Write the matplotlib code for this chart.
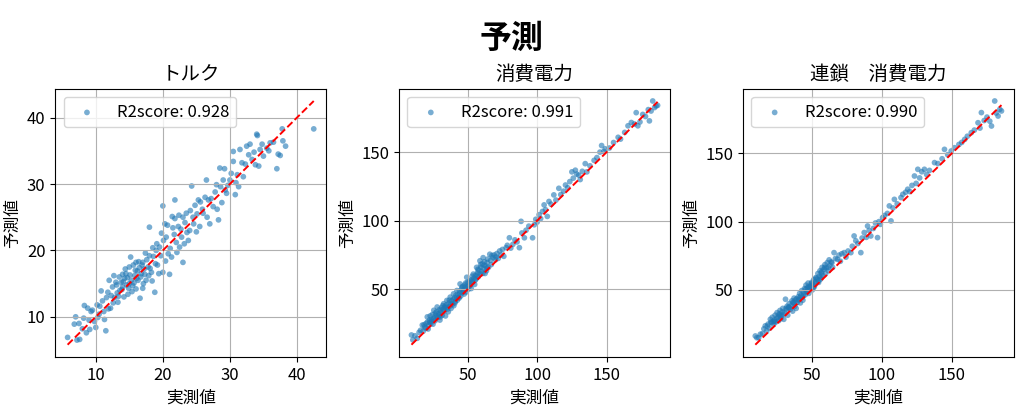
import matplotlib
matplotlib.use("Agg")
import matplotlib.pyplot as plt
from matplotlib.ticker import MultipleLocator

plt.rcParams['font.family'] = ['Noto Sans CJK JP', 'DejaVu Sans']

# トルク: 実測値 / 予測値
torque_true = [5.8, 6.8, 7.0, 7.2, 7.5, 7.6, 8.0, 8.3, 8.6, 8.8, 9.0, 9.3, 9.5, 9.8, 10.0, 10.2, 10.3, 10.5,
               10.8, 11.0, 11.3, 11.5, 11.6, 11.8, 12.0, 12.2, 12.5, 12.6, 12.8, 13.0, 13.2, 13.3, 13.5, 13.6,
               13.8, 14.0, 14.0, 14.2, 14.3, 14.5, 14.6, 14.8, 15.0, 15.0, 15.2, 15.3, 15.5, 15.6, 15.8, 16.0,
               16.0, 16.2, 16.3, 16.5, 16.6, 16.8, 17.0, 17.0, 17.2, 17.4, 17.5, 17.8, 18.0, 18.0, 18.3, 18.5,
               18.8, 19.0, 19.2, 19.5, 19.8, 20.0, 20.0, 20.3, 20.5, 20.8, 21.0, 21.3, 21.5, 21.8, 21.8, 22.0,
               22.3, 22.5, 22.8, 23.0, 23.0, 23.3, 23.5, 23.8, 24.0, 24.3, 24.5, 24.8, 25.0, 25.3, 25.5, 26.0,
               26.5, 26.8, 27.0, 27.5, 28.0, 28.3, 28.5, 28.8, 29.0, 29.3, 29.5, 30.0, 30.5, 30.5, 30.8, 31.1,
               31.3, 31.5, 32.0, 32.5, 32.8, 33.3, 33.8, 34.0, 34.3, 34.5, 35.0, 35.5, 36.0, 37.0, 37.5, 37.8,
               37.9, 38.3, 42.5,
               8.2, 9.1, 10.6, 11.2, 11.9, 12.3, 12.7, 13.1, 13.4, 13.9, 14.1, 14.4, 14.7, 14.9, 15.1, 15.4,
               15.7, 15.9, 16.1, 16.4, 16.7, 16.9, 17.1, 17.3, 17.6, 17.9, 18.1, 18.4, 18.6, 18.9, 19.1, 19.4,
               19.7, 20.1, 20.4, 20.7, 21.1, 21.4, 21.7, 22.1, 22.4, 22.7, 23.2, 23.6, 24.1, 24.6, 25.1, 25.6,
               25.9, 26.3, 26.6, 27.2, 27.8, 28.1, 28.6, 29.2, 29.7, 30.2, 30.9, 31.8, 32.3, 33.0, 33.6, 34.1,
               34.8, 35.8, 36.5, 37.2]
torque_pred = [6.9, 8.9, 10.0, 6.5, 9.0, 6.6, 8.2, 11.7, 7.6, 11.3, 9.5, 10.8, 11.0, 9.3, 8.4, 11.8, 9.9, 10.4,
               13.9, 12.4, 9.6, 7.9, 12.9, 13.7, 15.5, 11.3, 14.5, 12.1, 12.9, 15.2, 13.6, 12.2, 16.0, 14.0,
               15.2, 14.5, 16.4, 13.0, 15.8, 16.5, 14.8, 13.4, 17.5, 15.0, 19.0, 15.5, 14.7, 17.8, 16.2, 18.2,
               14.2, 16.9, 15.5, 17.4, 12.8, 16.5, 18.2, 14.3, 17.2, 19.6, 15.5, 17.5, 23.5, 19.2, 16.7, 20.4,
               13.7, 20.0, 17.8, 20.5, 22.6, 16.7, 26.7, 24.0, 22.0, 19.5, 16.4, 19.0, 23.4, 27.6, 24.8, 21.2,
               23.6, 20.5, 22.0, 18.2, 25.0, 24.2, 25.6, 21.5, 23.0, 29.7, 25.0, 26.8, 22.8, 27.6, 23.6, 25.6,
               30.6, 27.6, 24.0, 26.6, 29.9, 24.6, 32.4, 27.2, 30.6, 29.1, 28.6, 30.6, 33.4, 34.9, 28.4, 31.4,
               29.6, 35.2, 31.1, 35.7, 34.4, 33.7, 32.9, 37.5, 32.7, 35.2, 34.2, 35.4, 36.2, 32.3, 34.3, 38.3,
               36.5, 35.7, 38.3,
               9.8, 8.1, 11.6, 10.8, 11.2, 13.2, 16.2, 14.8, 13.1, 14.1, 15.3, 17.2, 15.9, 14.3, 16.3, 13.8,
               15.1, 17.0, 15.8, 18.3, 16.0, 17.8, 15.0, 16.4, 18.6, 16.2, 17.3, 15.4, 19.1, 18.0, 21.0, 16.5,
               19.2, 21.5, 18.4, 23.8, 20.3, 25.1, 22.4, 19.7, 25.3, 23.2, 21.0, 22.7, 26.0, 24.0, 25.5, 27.3,
               26.2, 28.0, 25.0, 27.8, 28.8, 26.2, 29.6, 32.3, 29.8, 31.6, 30.2, 33.2, 33.0, 36.0, 34.8, 37.3,
               36.0, 35.0, 36.3, 34.5]

# 消費電力: 実測値 / 予測値
power_true = [9.5, 10.5, 12.0, 13.7, 15.0, 16.0, 17.3, 18.0, 19.0, 20.0, 20.9, 21.5, 22.0, 22.5, 23.0, 23.5,
              24.0, 24.5, 25.0, 25.6, 26.0, 26.5, 27.0, 27.5, 28.0, 28.5, 29.0, 29.5, 30.0, 30.3, 30.8, 31.2,
              31.6, 32.0, 32.7, 33.0, 33.5, 34.0, 34.5, 35.0, 35.5, 36.0, 36.5, 37.0, 37.4, 38.0, 38.5, 39.0,
              39.8, 40.0, 40.5, 41.0, 41.5, 42.2, 42.5, 43.0, 43.5, 44.0, 44.5, 45.0, 45.5, 46.0, 46.5, 47.0,
              47.5, 48.0, 48.5, 49.0, 49.3, 50.0, 50.5, 51.0, 51.7, 52.0, 52.5, 53.0, 53.5, 54.0, 54.5, 55.0,
              55.5, 56.0, 56.4, 57.0, 57.5, 58.0, 58.8, 59.0, 59.5, 60.0, 60.5, 61.1, 61.5, 62.0, 62.5, 63.0,
              63.5, 64.0, 65.0, 65.9, 66.5, 67.0, 68.2, 69.0, 70.0, 71.0, 72.0, 73.0, 74.0, 75.0, 76.0, 77.7,
              78.5, 80.0, 81.0, 82.5, 84.0, 85.5, 87.2, 88.4, 89.0, 90.8, 92.0, 94.0, 96.7, 97.9, 99.0, 100.0,
              101.4, 102.5, 103.8, 105.0, 106.0, 107.3, 108.5, 110.0, 112.0, 113.5, 115.6, 117.0, 119.0, 120.4,
              122.0, 123.5, 125.0, 126.0, 127.5, 128.5, 129.9, 131.0, 132.5, 134.6, 135.8, 138.0, 141.0, 143.0,
              145.2, 146.4, 148.0, 149.0, 152.0, 155.0, 158.3, 160.0, 163.0, 165.4, 167.8, 170.0, 171.3, 172.5,
              174.0, 176.0, 178.0, 180.0, 180.8, 182.0, 183.2, 184.5, 185.6, 186.7,
              18.5, 21.0, 23.8, 26.8, 29.8, 32.3, 34.8, 36.8, 39.5, 41.8, 43.8, 45.8, 47.8, 49.8, 51.3, 53.3,
              55.3, 57.3, 59.3, 61.8, 64.5, 67.5, 70.5, 44.2, 40.8, 37.8, 33.8, 30.5, 27.8, 25.3, 22.8, 19.8,
              46.8, 48.8, 52.8, 56.8, 60.8, 63.8]
power_pred = [16.6, 13.0, 16.0, 14.2, 18.5, 20.0, 23.8, 19.5, 22.5, 25.0, 29.8, 21.0, 23.8, 27.5, 30.5, 25.0,
              28.0, 31.5, 24.5, 34.6, 29.0, 27.0, 31.0, 33.5, 37.0, 29.5, 32.0, 35.0, 27.5, 29.8, 33.0, 36.5,
              31.0, 38.0, 39.4, 34.0, 36.5, 30.5, 38.5, 41.8, 35.5, 33.5, 40.0, 37.5, 44.2, 36.0, 41.5, 39.0,
              46.6, 38.0, 43.5, 41.0, 45.5, 49.0, 42.0, 46.0, 44.0, 48.5, 53.8, 45.0, 50.0, 47.5, 52.0, 49.0,
              46.5, 51.5, 54.5, 48.0, 58.7, 52.0, 50.0, 55.0, 56.3, 53.0, 50.5, 57.0, 55.0, 61.0, 58.0, 53.5,
              60.0, 57.5, 65.9, 62.0, 59.0, 64.0, 70.7, 61.0, 66.0, 63.0, 68.5, 73.0, 65.0, 70.0, 61.5, 67.0,
              63.5, 69.5, 66.0, 75.5, 71.0, 68.0, 73.0, 75.0, 71.5, 76.0, 72.5, 77.9, 75.0, 79.0, 74.0, 80.3,
              82.0, 87.5, 80.0, 82.7, 86.0, 84.5, 80.3, 99.5, 91.0, 87.5, 93.0, 96.0, 87.5, 97.0, 101.0, 99.0,
              104.3, 101.5, 106.7, 111.5, 108.0, 103.1, 114.0, 112.0, 118.8, 115.0, 123.6, 119.0, 121.5, 126.0,
              124.0, 128.5, 135.6, 131.0, 136.8, 134.0, 133.2, 130.0, 136.0, 141.6, 135.6, 140.0, 144.0, 146.0,
              150.0, 154.8, 150.5, 152.4, 153.0, 157.0, 160.8, 159.5, 164.4, 169.2, 171.6, 170.5, 178.8, 169.2,
              172.0, 177.5, 176.0, 181.0, 172.8, 180.0, 187.3, 182.5, 183.7, 184.1,
              24.0, 26.0, 26.5, 32.5, 31.0, 35.5, 36.5, 42.0, 42.5, 44.0, 43.5, 51.5, 53.0, 55.0, 52.5, 59.5,
              56.5, 64.5, 68.0, 67.5, 72.0, 74.5, 73.5, 47.0, 40.0, 39.0, 37.5, 34.5, 30.0, 28.0, 26.0, 21.5,
              48.0, 50.5, 55.5, 60.5, 61.5, 65.5]

# 連鎖 消費電力: 実測値 / 予測値
chain_true = [9.9, 11.0, 12.3, 13.5, 15.0, 16.0, 17.0, 18.0, 19.0, 20.0, 20.6, 21.5, 22.0, 23.0, 23.5, 24.0,
              24.5, 25.4, 26.0, 26.5, 27.0, 27.5, 28.0, 28.5, 29.0, 29.5, 30.2, 30.8, 31.4, 32.0, 32.5, 33.0,
              33.5, 34.0, 35.0, 35.5, 36.0, 36.5, 37.0, 37.5, 38.0, 38.5, 39.0, 39.7, 40.5, 41.0, 41.5, 42.0,
              42.5, 43.0, 43.5, 44.5, 45.0, 45.5, 46.0, 46.5, 47.0, 47.5, 48.0, 48.5, 49.3, 50.0, 50.5, 51.0,
              51.5, 52.0, 52.5, 53.0, 54.0, 54.5, 55.0, 55.5, 56.0, 56.5, 57.0, 57.5, 58.0, 58.8, 59.5, 60.0,
              60.5, 61.2, 62.0, 62.5, 63.0, 64.0, 65.0, 66.0, 67.0, 68.4, 69.5, 70.5, 71.5, 73.2, 74.5, 76.0,
              78.0, 79.0, 80.3, 81.5, 83.0, 85.1, 86.0, 87.5, 89.0, 89.9, 91.0, 92.2, 94.0, 95.5, 97.0, 98.0,
              99.0, 100.6, 102.0, 104.0, 105.4, 106.6, 108.0, 109.0, 111.0, 113.7, 115.0, 117.0, 118.5, 120.0,
              121.5, 123.3, 124.5, 125.7, 127.0, 128.5, 130.4, 132.0, 134.0, 137.6, 140.0, 143.0, 144.7, 147.0,
              149.5, 151.9, 155.0, 157.0, 159.1, 161.0, 163.8, 166.0, 168.6, 170.0, 171.0, 173.0, 175.0, 177.0,
              178.2, 180.5, 181.5, 182.9, 184.1, 185.3,
              18.5, 21.0, 23.8, 26.8, 29.8, 31.8, 34.3, 36.8, 39.3, 41.8, 43.8, 45.8, 47.8, 49.8, 51.3, 53.3,
              55.3, 57.3, 59.3, 61.8, 64.5, 22.8, 25.3, 27.8, 33.8, 37.8, 40.8, 44.2, 46.8, 48.8, 52.8, 56.8]
chain_pred = [16.3, 15.0, 15.1, 17.6, 18.0, 21.5, 23.7, 20.0, 25.0, 22.0, 28.5, 26.0, 30.0, 24.9, 28.0, 31.5,
              26.5, 33.4, 30.0, 27.5, 32.5, 35.0, 29.0, 31.0, 34.0, 36.5, 28.5, 33.0, 43.2, 35.5, 38.0, 31.5,
              37.0, 40.0, 35.9, 38.5, 42.0, 34.5, 40.5, 44.0, 38.0, 42.5, 36.5, 40.7, 45.0, 43.0, 47.5, 40.5,
              46.0, 49.5, 44.5, 48.0, 51.0, 46.5, 53.5, 49.0, 51.5, 55.0, 47.5, 52.0, 52.9, 55.5, 50.0, 54.0,
              57.5, 52.5, 56.0, 59.0, 57.8, 62.0, 55.5, 60.0, 64.0, 58.0, 62.5, 66.5, 60.5, 65.1, 68.5, 62.0,
              66.0, 70.0, 64.0, 72.0, 68.0, 70.5, 66.5, 77.3, 73.0, 72.4, 75.5, 71.0, 76.5, 77.3, 74.0, 78.5,
              77.3, 82.0, 89.5, 86.0, 84.0, 77.3, 88.0, 92.0, 88.5, 96.8, 93.5, 89.5, 95.0, 99.0, 88.3, 100.0,
              98.0, 102.9, 104.5, 106.0, 111.5, 100.5, 110.0, 116.3, 113.0, 117.6, 120.0, 121.5, 123.7, 122.0,
              126.5, 133.4, 128.0, 138.3, 132.0, 136.5, 138.3, 134.5, 137.5, 143.2, 142.5, 146.0, 152.9, 149.0,
              151.7, 154.1, 156.5, 158.0, 160.2, 162.5, 165.1, 167.0, 172.4, 168.5, 179.8, 174.0, 176.5, 173.5,
              170.0, 188.3, 179.5, 177.3, 182.2, 181.0,
              23.5, 26.5, 27.0, 31.5, 32.0, 36.5, 37.0, 41.0, 43.5, 44.5, 42.5, 50.5, 52.5, 54.5, 51.5, 58.5,
              57.0, 63.5, 66.5, 66.5, 70.0, 27.0, 29.5, 31.0, 37.5, 40.5, 42.5, 46.0, 48.5, 51.0, 54.5, 59.5]

titles = ['トルク', '消費電力', '連鎖\u3000消費電力']
r2_scores = [0.928, 0.991, 0.990]
tick_steps = [10, 50, 50]
trues = [torque_true, power_true, chain_true]
preds = [torque_pred, power_pred, chain_pred]

fig, axes = plt.subplots(1, 3, figsize=(10.24, 4.15), dpi=100)
fig.subplots_adjust(left=0.054, right=0.99, top=0.786, bottom=0.14, wspace=0.27)
fig.suptitle('予測', fontsize=23, fontweight='bold', y=0.945)

for ax, t, p, title, r2, step in zip(axes, trues, preds, titles, r2_scores, tick_steps):
    ax.scatter(t, p, s=17, alpha=0.6, color='tab:blue', edgecolors='none', label=f'R2score: {r2:.3f}')
    lo, hi = min(t), max(t)
    ax.plot([lo, hi], [lo, hi], 'r--', lw=1.4)
    ax.xaxis.set_major_locator(MultipleLocator(step))
    ax.yaxis.set_major_locator(MultipleLocator(step))
    ax.set_title(title, fontsize=14)
    ax.set_xlabel('実測値', fontsize=12)
    ax.set_ylabel('予測値', fontsize=12)
    ax.tick_params(labelsize=12)
    ax.grid(True)
    ax.legend(loc='upper left', fontsize=12)

plt.savefig('out.png', dpi=100)
